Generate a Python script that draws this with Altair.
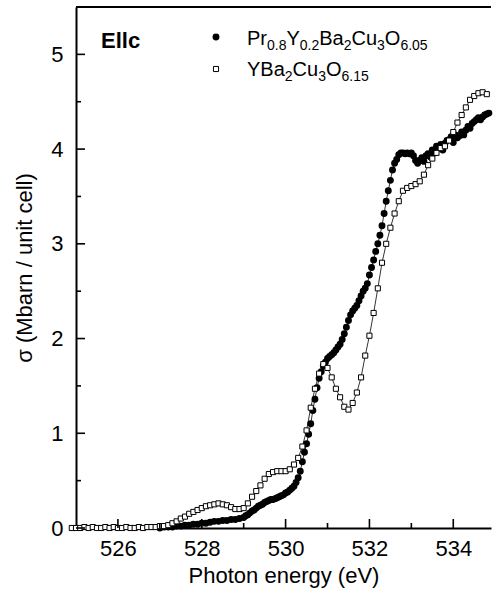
import altair as alt
import pandas as pd

# ---------------- data ----------------
pr_energy = [527.0, 527.1, 527.2, 527.3, 527.4, 527.5, 527.6, 527.7, 527.8, 527.9,
             528.0, 528.1, 528.2, 528.3, 528.4, 528.5, 528.6, 528.7, 528.8, 528.9,
             529.0, 529.05, 529.1, 529.15, 529.2, 529.25, 529.3, 529.35, 529.4, 529.45,
             529.5, 529.55, 529.6, 529.65, 529.7, 529.75, 529.8, 529.85, 529.9, 529.95,
             530.0, 530.05, 530.1, 530.15, 530.2, 530.25, 530.3, 530.35, 530.4, 530.45,
             530.5, 530.55, 530.6, 530.65, 530.7, 530.75, 530.8, 530.85, 530.9, 530.95,
             531.0, 531.05, 531.1, 531.15, 531.2, 531.25, 531.3, 531.35, 531.4, 531.45,
             531.5, 531.55, 531.6, 531.65, 531.7, 531.75, 531.8, 531.85, 531.9, 531.95,
             532.0, 532.05, 532.1, 532.15, 532.2, 532.25, 532.3, 532.35, 532.4, 532.45,
             532.5, 532.55, 532.6, 532.65, 532.7, 532.75, 532.8, 532.85, 532.9, 532.95,
             533.0, 533.05, 533.1, 533.15, 533.2, 533.25, 533.3, 533.35, 533.4, 533.45,
             533.5, 533.55, 533.6, 533.65, 533.7, 533.75, 533.8, 533.85, 533.9, 533.95,
             534.0, 534.05, 534.1, 534.15, 534.2, 534.25, 534.3, 534.35, 534.4, 534.45,
             534.5, 534.55, 534.6, 534.65, 534.7, 534.75, 534.8, 534.85]
pr_sigma = [0.00, 0.01, 0.01, 0.01, 0.02, 0.02, 0.03, 0.03, 0.04, 0.04,
            0.05, 0.05, 0.06, 0.07, 0.07, 0.08, 0.08, 0.09, 0.09, 0.10,
            0.11, 0.13, 0.14, 0.16, 0.18, 0.19, 0.21, 0.23, 0.24, 0.25,
            0.27, 0.28, 0.29, 0.30, 0.30, 0.31, 0.32, 0.33, 0.34, 0.35,
            0.37, 0.38, 0.40, 0.42, 0.44, 0.48, 0.53, 0.60, 0.70, 0.80,
            0.89, 0.99, 1.10, 1.24, 1.36, 1.48, 1.58, 1.65, 1.71, 1.75,
            1.79, 1.81, 1.83, 1.85, 1.88, 1.91, 1.94, 1.99, 2.05, 2.12,
            2.19, 2.25, 2.29, 2.32, 2.35, 2.40, 2.45, 2.50, 2.53, 2.58,
            2.67, 2.75, 2.83, 2.92, 3.00, 3.09, 3.19, 3.32, 3.45, 3.56,
            3.67, 3.78, 3.85, 3.89, 3.94, 3.96, 3.96, 3.95, 3.96, 3.95,
            3.96, 3.93, 3.88, 3.85, 3.88, 3.91, 3.87, 3.93, 3.95, 3.92,
            3.99, 3.96, 4.03, 4.01, 4.05, 3.99, 4.06, 4.09, 4.10, 4.13,
            4.07, 4.15, 4.12, 4.14, 4.18, 4.15, 4.20, 4.24, 4.22, 4.27,
            4.29, 4.31, 4.33, 4.31, 4.34, 4.36, 4.37, 4.38]

yb_energy = [524.9, 525.0, 525.1, 525.2, 525.3, 525.4, 525.5, 525.6, 525.7, 525.8, 525.9,
             526.0, 526.1, 526.2, 526.3, 526.4, 526.5, 526.6, 526.7, 526.8, 526.9,
             527.0, 527.1, 527.2, 527.3, 527.4, 527.5, 527.6, 527.7, 527.8, 527.9,
             528.0, 528.1, 528.2, 528.3, 528.4, 528.5, 528.6, 528.7, 528.8, 528.9,
             529.0, 529.1, 529.2, 529.3, 529.4, 529.5, 529.6, 529.7, 529.8, 529.9,
             530.0, 530.1, 530.2, 530.3, 530.4, 530.5, 530.6, 530.7, 530.8, 530.9,
             531.0, 531.1, 531.2, 531.3, 531.4, 531.5, 531.6, 531.7, 531.8, 531.9,
             532.0, 532.1, 532.2, 532.3, 532.4, 532.5, 532.6, 532.7, 532.8, 532.9,
             533.0, 533.1, 533.2, 533.3, 533.4, 533.5, 533.6, 533.7, 533.8, 533.9,
             534.0, 534.1, 534.2, 534.3, 534.4, 534.5, 534.6, 534.7, 534.8]
yb_sigma = [0.00, 0.00, 0.00, 0.01, 0.00, 0.01, 0.00, 0.00, 0.01, 0.00, 0.01,
            0.00, 0.00, 0.01, 0.00, 0.00, 0.01, 0.00, 0.01, 0.01, 0.01,
            0.02, 0.02, 0.03, 0.05, 0.07, 0.10, 0.12, 0.15, 0.17, 0.19,
            0.21, 0.23, 0.24, 0.25, 0.26, 0.25, 0.24, 0.22, 0.20, 0.20,
            0.21, 0.26, 0.33, 0.39, 0.45, 0.52, 0.57, 0.59, 0.60, 0.60,
            0.60, 0.62, 0.67, 0.74, 0.86, 1.03, 1.27, 1.47, 1.63, 1.73,
            1.69, 1.59, 1.47, 1.38, 1.28, 1.25, 1.32, 1.43, 1.59, 1.82,
            2.03, 2.27, 2.53, 2.80, 3.00, 3.17, 3.32, 3.45, 3.56, 3.59,
            3.61, 3.63, 3.66, 3.73, 3.83, 3.90, 3.96, 4.01, 4.03, 4.09,
            4.18, 4.28, 4.36, 4.44, 4.52, 4.56, 4.59, 4.60, 4.58]

x_major = [526, 528, 530, 532, 534]
x_minor = [527, 529, 531, 533]
y_major = [0, 1, 2, 3, 4, 5]
y_minor = [0.5, 1.5, 2.5, 3.5, 4.5]

# ---------------- layout ----------------
W, H = 415, 521
LEFT, TOP = 76, 7
FONT = "Liberation Sans"

xs = alt.Scale(domain=[525, 534.9], nice=False, zero=False)
ys = alt.Scale(domain=[0, 5.5], nice=False, zero=False)

xaxis = alt.Axis(values=x_major, ticks=False, tickSize=0, grid=False, labelFontSize=22,
                 labelFont=FONT, labelColor="black", labelPadding=10, domainWidth=2,
                 domainColor="black", title="Photon energy (eV)", titleFontSize=22,
                 titleFont=FONT, titleFontWeight="normal", titleColor="black",
                 titlePadding=6, format="d")
yaxis = alt.Axis(values=y_major, ticks=False, tickSize=0, grid=False, labelFontSize=22,
                 labelFont=FONT, labelColor="black", labelPadding=13, domainWidth=2,
                 domainColor="black", title="σ (Mbarn / unit cell)", titleFontSize=22,
                 titleFont=FONT, titleFontWeight="normal", titleColor="black",
                 titlePadding=14, format="d")

XE = alt.X("E:Q", scale=xs, axis=xaxis)
YS = alt.Y("S:Q", scale=ys, axis=yaxis)

pr = pd.DataFrame({"E": pr_energy, "S": pr_sigma})
yb = pd.DataFrame({"E": yb_energy, "S": yb_sigma})

base_pr = alt.Chart(pr).encode(x=XE, y=YS)
pr_line = base_pr.mark_line(color="black", strokeWidth=0.8)
pr_pts = base_pr.mark_circle(color="black", size=48, opacity=1)

base_yb = alt.Chart(yb).encode(x=XE, y=YS)
yb_line = base_yb.mark_line(color="black", strokeWidth=0.8)
yb_pts = base_yb.mark_point(shape="square", size=26, filled=False, fill="white",
                            fillOpacity=1, stroke="black", strokeWidth=1, opacity=1)

# inward ticks
def yticks(vals, length):
    return alt.Chart(pd.DataFrame({"S": vals})).mark_rule(color="black", strokeWidth=1.6).encode(
        y=YS, x=alt.value(0), x2=alt.value(length))

def xticks(vals, length):
    return alt.Chart(pd.DataFrame({"E": vals})).mark_rule(color="black", strokeWidth=1.6).encode(
        x=XE, y=alt.value(H), y2=alt.value(H - length))

top_border = alt.Chart(pd.DataFrame({"a": [0]})).mark_rule(color="black", strokeWidth=2).encode(
    x=alt.value(0), x2=alt.value(W), y=alt.value(0))

# legend / annotation text
one = pd.DataFrame({"a": [0]})
layers = []

def text(t, px, py, size, weight="normal"):
    return alt.Chart(one).mark_text(text=t, align="left", baseline="alphabetic", fontSize=size,
                                    font=FONT, fontWeight=weight, color="black").encode(
        x=alt.value(px - LEFT), y=alt.value(py - TOP))

AW = {"0": 556, "1": 556, "2": 556, "3": 556, "5": 556, "6": 556, "8": 556, ".": 278,
      "P": 667, "r": 333, "Y": 667, "B": 667, "a": 556, "C": 722, "u": 556, "O": 778}

def formula(parts, x0, base, M=20, S=14, drop=5):
    out = []
    x = x0
    for t, sub in parts:
        size = S if sub else M
        out.append(text(t, x, base + (drop if sub else 0), size))
        x += sum(AW[c] for c in t) / 1000 * size
    return out

line1 = [("Pr", 0), ("0.8", 1), ("Y", 0), ("0.2", 1), ("Ba", 0), ("2", 1),
         ("Cu", 0), ("3", 1), ("O", 0), ("6.05", 1)]
line2 = [("YBa", 0), ("2", 1), ("Cu", 0), ("3", 1), ("O", 0), ("6.15", 1)]

layers += formula(line1, 247, 44.5)
layers += formula(line2, 247, 76)
layers.append(text("Ellc", 101, 47.5, 22, "bold"))

leg_dot = alt.Chart(one).mark_circle(color="black", size=48, opacity=1).encode(
    x=alt.value(216 - LEFT), y=alt.value(37 - TOP))
leg_sq = alt.Chart(one).mark_point(shape="square", size=26, filled=False, fill="white",
                                   fillOpacity=1, stroke="black", strokeWidth=1, opacity=1).encode(
    x=alt.value(216 - LEFT), y=alt.value(69 - TOP))

chart = alt.layer(
    pr_line, pr_pts, yb_line, yb_pts,
    yticks(y_major, 9), yticks(y_minor, 5), xticks(x_major, 9), xticks(x_minor, 5),
    top_border, leg_dot, leg_sq, *layers
).properties(
    width=W, height=H,
    padding={"left": LEFT, "top": TOP, "right": 2, "bottom": 67},
    autosize="none", background="white"
).configure_view(stroke=None)

chart.save("out.html", embed_options={"renderer": "svg", "actions": False})
